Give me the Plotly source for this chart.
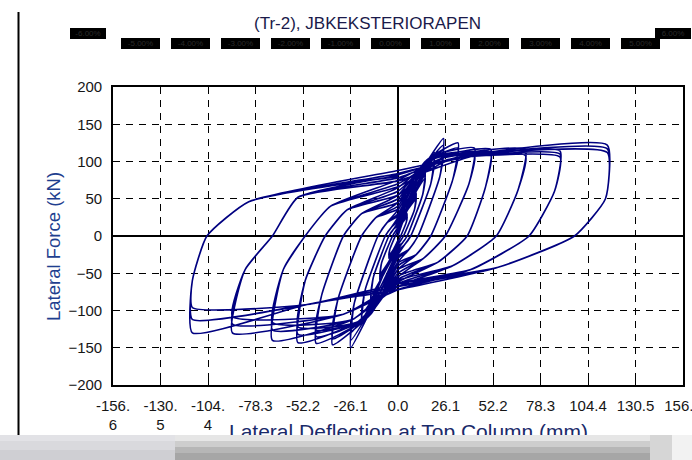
import plotly.graph_objects as go

# ---------------- data ----------------
# Each amplitude level of the cyclic test: key points of the loops (mm, kN)
peak_pos_d = [5, 10, 15, 20, 25, 33, 42, 51, 70, 89, 115]
peak_pos_f = [30, 58, 88, 112, 131, 125, 118, 116, 116, 114, 122]
peak_pos_f2 = [28, 54, 83, 106, 122, 118, 112, 112, 112, 110, 117]
peak_pos_f3 = [26, 50, 78, 100, 115, 112, 108, 108, 108, 106, 112]
peak_neg_d = [-5, -10, -15, -20, -26, -36, -45, -55, -69, -91, -113]
peak_neg_f = [-30, -60, -92, -118, -150, -146, -144, -143, -140, -130, -130]
peak_neg_f2 = [-28, -56, -86, -112, -140, -138, -135, -132, -126, -118, -112]
peak_neg_f3 = [-26, -52, -80, -105, -130, -130, -126, -122, -116, -108, -96]
knee_pos_d = [2.5, 5, 8, 10, 13, 15, 18, 20, 25, 30, 45]
knee_pos_f = [18, 34, 52, 68, 88, 100, 106, 104, 105, 104, 110]
unl_pos_d = [4.5, 9, 13.5, 18, 23, 30, 39, 48, 66, 86, 114]
unl_pos_f = [18, 35, 55, 70, 80, 75, 70, 65, 62, 60, 50]
res_pos = [1.5, 3, 5, 7, 11, 18, 26, 38, 54, 72, 97]
rev_pos_d = [0.8, 1.5, 2.5, 3.5, 6, 10, 14, 22, 30, 40, 55]
rev_pos_f = [-4, -6, -9, -12, -18, -25, -30, -35, -40, -45, -42]
zero_neg_f = [-8, -12, -18, -25, -35, -45, -55, -62, -68, -72, -72]
zero_neg_f2 = [-7, -11, -16, -22, -30, -40, -50, -58, -64, -68, -68]
zero_neg_f3 = [-6, -10, -14, -20, -27, -36, -45, -54, -60, -64, -64]
knee_neg_d = [-2.5, -5, -8, -10, -13, -15, -18, -22, -25, -30, -50]
knee_neg_f = [-18, -34, -52, -70, -90, -105, -112, -115, -112, -105, -92]
unl_neg_d = [-4.5, -9, -13.5, -18, -24, -33, -42, -51, -63, -84, -113]
unl_neg_f = [-18, -36, -55, -72, -90, -85, -80, -60, -45, -45, -60]
res_neg = [-1.5, -3, -5, -7, -11, -20, -30, -40, -51, -69, -105]
rev_neg_d = [-0.8, -1.5, -2.5, -3.5, -6, -12, -20, -28, -37, -55, -82]
rev_neg_f = [4, 6, 9, 12, 18, 25, 30, 35, 40, 52, 46]
zero_pos_f = [8, 12, 18, 25, 35, 45, 55, 65, 75, 82, 88]
zero_pos_f2 = [7, 11, 16, 22, 30, 40, 50, 60, 70, 78, 84]
zero_pos_f3 = [6, 10, 14, 20, 27, 36, 45, 55, 66, 74, 80]

x_ticks = [-156.6, -130.5, -104.4, -78.3, -52.2, -26.1, 0.0, 26.1, 52.2, 78.3, 104.4, 130.5, 156.6]
x_tick_labels = ["-156.<br>6", "-130.<br>5", "-104.<br>4", "-78.3", "-52.2", "-26.1", "0.0",
                 "26.1", "52.2", "78.3", "104.4", "130.5", "156.6"]
y_ticks = [-200, -150, -100, -50, 0, 50, 100, 150, 200]
drift_ticks = [-5, -4, -3, -2, -1, 0, 1, 2, 3, 4, 5]
drift_labels = ["-5.00%", "-4.00%", "-3.00%", "-2.00%", "-1.00%", "0.00%",
                "1.00%", "2.00%", "3.00%", "4.00%", "5.00%"]
drift_end_labels = ["-6.00%", "6.00%"]

TITLE = "(Tr-2), JBKEKSTERIORAPEN"
X_TITLE = "Lateral Deflection at Top Column (mm)"
Y_TITLE = "Lateral Force (kN)"

# ---------------- path through the loops ----------------
pos_peaks = [peak_pos_f, peak_pos_f2, peak_pos_f3]
neg_peaks = [peak_neg_f, peak_neg_f2, peak_neg_f3]
pos_zero = [zero_pos_f, zero_pos_f2, zero_pos_f3]
neg_zero = [zero_neg_f, zero_neg_f2, zero_neg_f3]

xs, ys = [0.0], [0.0]
for i in range(len(peak_pos_d)):
    for c in range(3):
        seq = [(knee_pos_d[i], knee_pos_f[i]), (peak_pos_d[i], pos_peaks[c][i]),
               (unl_pos_d[i], unl_pos_f[i]), (res_pos[i], 0),
               (rev_pos_d[i], rev_pos_f[i]), (0, neg_zero[c][i]),
               (knee_neg_d[i], knee_neg_f[i]), (peak_neg_d[i], neg_peaks[c][i]),
               (unl_neg_d[i], unl_neg_f[i]), (res_neg[i], 0),
               (rev_neg_d[i], rev_neg_f[i]), (0, pos_zero[c][i])]
        for px, py in seq:
            xs.append(px)
            ys.append(py)

fig = go.Figure()
fig.add_trace(go.Scatter(x=xs, y=ys, mode="lines",
                         line=dict(color="#000080", width=1.6, shape="spline", smoothing=0.5),
                         hoverinfo="skip", showlegend=False))

# ---------------- layout ----------------
W, H = 692, 460
L, R, T, B = 113, 9, 87, 75
PW, PH = W - L - R, H - T - B


def px_x(p):
    return (p - L) / PW


def px_y(p):
    return (H - B - p) / PH


FONT = "Liberation Sans, Arial, sans-serif"
axis_common = dict(showgrid=True, gridcolor="black", gridwidth=1.3, griddash="7px,6px",
                   zeroline=True, zerolinecolor="black", zerolinewidth=1.6,
                   showline=True, linecolor="black", linewidth=1.6, mirror=True,
                   ticks="inside", ticklen=5, tickcolor="black", tickwidth=1.3,
                   tickfont=dict(family=FONT, size=15, color="#161616"))

fig.update_layout(
    width=W, height=H, margin=dict(l=L, r=R, t=T, b=B, pad=0, autoexpand=False),
    paper_bgcolor="white", plot_bgcolor="white",
    xaxis=dict(range=[-156.6, 156.6], tickvals=x_ticks, ticktext=x_tick_labels,
               ticklabelstandoff=6, ticklabeloverflow="allow", **axis_common),
    yaxis=dict(range=[-200, 200], tickvals=y_ticks, ticklabelstandoff=6, **axis_common),
)

ann = []
ann.append(dict(text=TITLE, x=px_x(367), y=px_y(23), xref="paper", yref="paper",
                xanchor="center", yanchor="middle",
                showarrow=False, font=dict(family=FONT, size=17, color="#1a1a4a")))
ann.append(dict(text=Y_TITLE, x=px_x(53), y=px_y(247), xref="paper", yref="paper",
                xanchor="center", yanchor="middle", textangle=-90, showarrow=False,
                font=dict(family=FONT, size=18.5, color="#1f3f8f")))
ann.append(dict(text=X_TITLE, x=px_x(408), y=px_y(431), xref="paper", yref="paper",
                xanchor="center", yanchor="middle",
                showarrow=False, font=dict(family=FONT, size=21, color="#1a2a6a")))

for v, lab in zip(drift_ticks, drift_labels):
    ann.append(dict(text=lab, x=px_x(390 + 50 * v), y=px_y(43.5), xref="paper", yref="paper",
                    xanchor="center", yanchor="middle", borderwidth=0,
                    showarrow=False, width=39, height=11, bgcolor="black", borderpad=0,
                    font=dict(family=FONT, size=8, color="#2a2a2a")))
for pxc, lab in zip([88, 673], drift_end_labels):
    ann.append(dict(text=lab, x=px_x(pxc), y=px_y(33.5), xref="paper", yref="paper",
                    xanchor="center", yanchor="middle", borderwidth=0,
                    showarrow=False, width=36, height=11, bgcolor="black", borderpad=0,
                    font=dict(family=FONT, size=8, color="#2a2a2a")))

# grey strip at the bottom of the picture (covers the lower part of the x title)
bands = [
    (0, 175, 435, 441, "#e2e2e6"), (0, 175, 441, 450, "#d9d9dd"), (0, 175, 450, 460, "#cfcfd3"),
    (175, 650, 435, 441, "#e6e6e6"), (175, 650, 441, 447, "#cdcdcd"),
    (175, 650, 447, 453, "#b6b6b6"), (175, 650, 453, 460, "#a6a6a6"),
    (650, 672, 435, 460, "#d6d6d6"), (672, 692, 435, 460, "#f2f2f2"),
]
for x0, x1, y0, y1, col in bands:
    ann.append(dict(text="", x=px_x((x0 + x1) / 2), y=px_y((y0 + y1) / 2),
                    xref="paper", yref="paper", showarrow=False, borderwidth=0,
                    width=x1 - x0, height=y1 - y0, bgcolor=col, borderpad=0,
                    xanchor="center", yanchor="middle"))
fig.update_layout(annotations=ann)

fig.add_shape(type="line", xref="paper", yref="paper",
              x0=px_x(18.5), x1=px_x(18.5), y0=px_y(12), y1=px_y(435),
              line=dict(color="black", width=2))

fig.write_html("out.html", config={"displayModeBar": False},
               post_script="document.body.style.margin='0px';")
